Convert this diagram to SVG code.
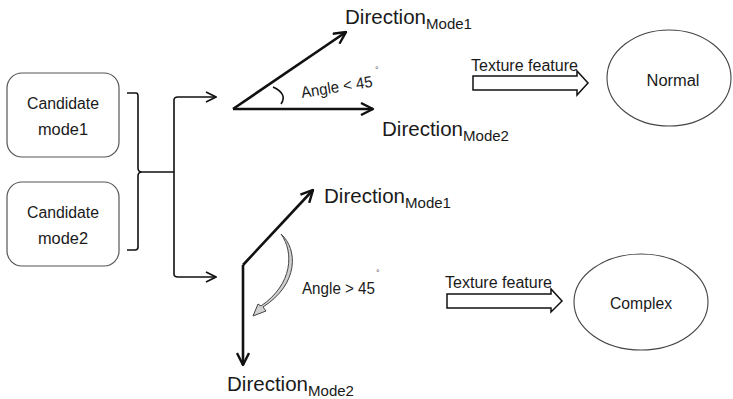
<svg xmlns="http://www.w3.org/2000/svg" width="733" height="399" viewBox="0 0 733 399">
<defs>
<style>
text{font-family:"Liberation Sans","Noto Sans",sans-serif;fill:#1a1a1a}
.box{fill:#fff;stroke:#555;stroke-width:1.2}
.ell{fill:#fff;stroke:#444;stroke-width:1.1}
.thin{fill:none;stroke:#111;stroke-width:1.6}
.vec{fill:none;stroke:#111;stroke-width:2.6}
.blk{fill:#fff;stroke:#111;stroke-width:1.5}
.t15{font-size:16px}
.dir{font-size:20.5px}
.sub{font-size:15px}
.deg{font-size:9px;fill:#555}
</style>
<marker id="open" viewBox="0 0 12 12" refX="11" refY="6" markerWidth="12" markerHeight="12" markerUnits="userSpaceOnUse" orient="auto">
<path d="M1,1 L11,6 L1,11" fill="none" stroke="#111" stroke-width="1.6"/>
</marker>
<marker id="openB" viewBox="0 0 14 14" refX="13" refY="7" markerWidth="14" markerHeight="14" markerUnits="userSpaceOnUse" orient="auto">
<path d="M1,1 L13,7 L1,13" fill="none" stroke="#111" stroke-width="2.4"/>
</marker>
</defs>
<rect width="733" height="399" fill="#fff"/>

<g id="candidate1">
<rect class="box" x="7" y="73" width="112" height="84" rx="15"/>
<text class="t15" x="63" y="109" text-anchor="middle" textLength="72" lengthAdjust="spacingAndGlyphs">Candidate</text>
<text class="t15" x="63" y="135" text-anchor="middle" textLength="50" lengthAdjust="spacingAndGlyphs">mode1</text>
</g>
<g id="candidate2">
<rect class="box" x="7" y="182" width="112" height="84" rx="15"/>
<text class="t15" x="63" y="218" text-anchor="middle" textLength="72" lengthAdjust="spacingAndGlyphs">Candidate</text>
<text class="t15" x="63" y="244" text-anchor="middle" textLength="50" lengthAdjust="spacingAndGlyphs">mode2</text>
</g>

<g id="connectors">
<path class="thin" d="M127,93 L136,93 Q138,93 138,96 L138,168 Q138,172 142,172 L174,172 M142,172 Q138,172 138,176 L138,247 Q138,250 135,250 L127,250"/>
<path class="thin" d="M174,172 L174,100 Q174,97 178,97 L216,97" marker-end="url(#open)"/>
<path class="thin" d="M174,172 L174,274 Q174,277 178,277 L216,277" marker-end="url(#open)"/>
</g>

<g id="angle-small">
<path class="vec" d="M233,109 L346,32" marker-end="url(#openB)"/>
<path class="vec" d="M233,109 L373,109" marker-end="url(#openB)"/>
<path class="thin" d="M273,87 Q288,94 281,104"/>
<text class="t15" transform="translate(302,98) rotate(-9)" textLength="72" lengthAdjust="spacingAndGlyphs">Angle &lt; 45</text>
<text class="deg" x="375" y="73">°</text>
<text class="dir" x="345" y="24" textLength="81" lengthAdjust="spacingAndGlyphs">Direction</text>
<text class="sub" x="426" y="29" textLength="46" lengthAdjust="spacingAndGlyphs">Mode1</text>
<text class="dir" x="382" y="136" textLength="81" lengthAdjust="spacingAndGlyphs">Direction</text>
<text class="sub" x="463" y="141" textLength="46" lengthAdjust="spacingAndGlyphs">Mode2</text>
</g>

<g id="angle-large">
<path class="vec" d="M243,265 L313,190" marker-end="url(#openB)"/>
<path class="vec" d="M243,265 L243,365" marker-end="url(#openB)"/>
<path d="M281,234 C298,249 299,284 263,307 L266,311 L253,316 L258,304 L261,306 C293,284 294,252 281,234 Z" fill="#d0d0d0" stroke="#444" stroke-width="1"/>
<text class="t15" x="302" y="294" textLength="73" lengthAdjust="spacingAndGlyphs">Angle &gt; 45</text>
<text class="deg" x="376" y="276">°</text>
<text class="dir" x="324" y="203" textLength="81" lengthAdjust="spacingAndGlyphs">Direction</text>
<text class="sub" x="405" y="208" textLength="46" lengthAdjust="spacingAndGlyphs">Mode1</text>
<text class="dir" x="227" y="391" textLength="81" lengthAdjust="spacingAndGlyphs">Direction</text>
<text class="sub" x="308" y="396" textLength="46" lengthAdjust="spacingAndGlyphs">Mode2</text>
</g>

<g id="texture1">
<text class="t15" x="471" y="71" textLength="107" lengthAdjust="spacingAndGlyphs">Texture feature</text>
<path class="blk" d="M473,76 L577,76 L577,71 L588,83 L577,95 L577,90 L473,90 Z"/>
</g>
<g id="texture2">
<text class="t15" x="445" y="288" textLength="107" lengthAdjust="spacingAndGlyphs">Texture feature</text>
<path class="blk" d="M447,294 L551,294 L551,289 L562,301 L551,312 L551,308 L447,308 Z"/>
</g>

<g id="normal">
<ellipse class="ell" cx="669" cy="78" rx="62" ry="48"/>
<text class="t15" x="673" y="86" text-anchor="middle" textLength="53" lengthAdjust="spacingAndGlyphs">Normal</text>
</g>
<g id="complex">
<ellipse class="ell" cx="641" cy="302" rx="67" ry="48"/>
<text class="t15" x="641" y="309" text-anchor="middle" textLength="62" lengthAdjust="spacingAndGlyphs">Complex</text>
</g>
</svg>
